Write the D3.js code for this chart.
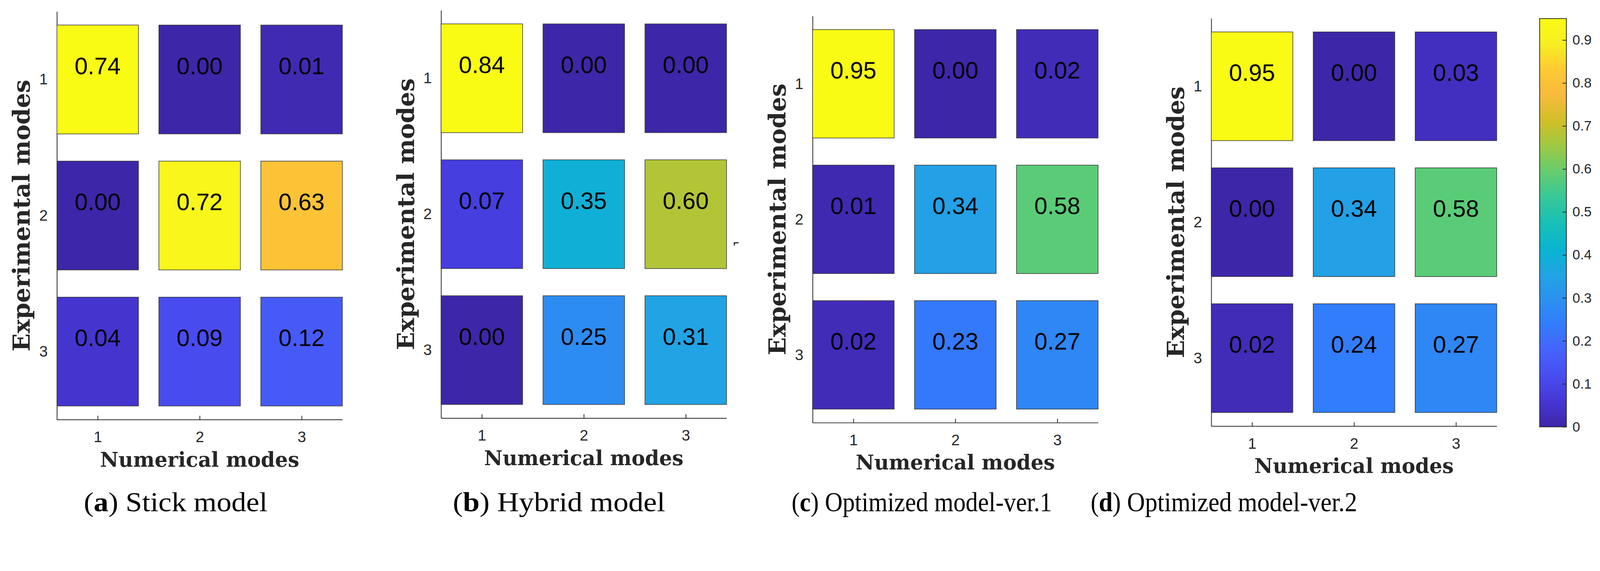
<!DOCTYPE html>
<html>
<head>
<meta charset="utf-8">
<script src="https://cdn.jsdelivr.net/npm/d3@7"></script>
<style>
  html, body { margin: 0; padding: 0; background: #fff; overflow: hidden; }
  svg { display: block; }
</style>
</head>
<body>
<div id="chart"></div>
<script>
// mode indices on both axes
var numericalModes = [1, 2, 3];
var experimentalModes = [1, 2, 3];

// MAC values, rows = experimental modes, columns = numerical modes
var stickModel   = [[0.74, 0.00, 0.01], [0.00, 0.72, 0.63], [0.04, 0.09, 0.12]];
var hybridModel  = [[0.84, 0.00, 0.00], [0.07, 0.35, 0.60], [0.00, 0.25, 0.31]];
var optimizedV1  = [[0.95, 0.00, 0.02], [0.01, 0.34, 0.58], [0.02, 0.23, 0.27]];
var optimizedV2  = [[0.95, 0.00, 0.03], [0.00, 0.34, 0.58], [0.02, 0.24, 0.27]];

var panelLetters = ['a', 'b', 'c', 'd'];
var panelTitles = ['Stick model', 'Hybrid model', 'Optimized model-ver.1', 'Optimized model-ver.2'];

var colorbarTicks = [0, 0.1, 0.2, 0.3, 0.4, 0.5, 0.6, 0.7, 0.8, 0.9];
var colorbarMax = 0.95;

// parula colormap (sampled)
var parula = ['#3e26a8', '#4537d5', '#484df0', '#4563fd', '#327cfc', '#2b91ef', '#20a5e3', '#08b5d0',
              '#19bfb6', '#37c897', '#64cd6f', '#9dc943', '#d1bf27', '#f8ba3d', '#fec934', '#f6ef20', '#f9fb15'];
var parulaInterp = d3.piecewise(d3.interpolateRgb, parula);

var W = 4190, H = 1462;
var axisColor = '#262626';
var cellPitch = 267;
var numFont = '"Liberation Sans", Arial, sans-serif';

var svg = d3.select('#chart').append('svg')
    .attr('viewBox', '0 0 ' + W + ' ' + H)
    .attr('width', '100%')
    .attr('preserveAspectRatio', 'xMinYMin meet')
    .style('background', '#fff');

var panels = [
    {data: stickModel,  left: 149,  top: 30, bottom: 1099, capX: 460,  capW: 481},
    {data: hybridModel, left: 1155, top: 27, bottom: 1095, capX: 1464, capW: 556},
    {data: optimizedV1, left: 2128, top: 42, bottom: 1107, capX: 2414, capW: 682},
    {data: optimizedV2, left: 3172, top: 48, bottom: 1116, capX: 3205, capW: 698}
];

panels.forEach(function(p, k) {
    var g = svg.append('g').attr('class', 'panel-' + k);
    var x = d3.scaleLinear().domain([0.6, 3.4]).range([p.left, p.left + 2.8 * cellPitch]);
    var y = d3.scaleLinear().domain([0.5, 3.5]).range([p.top, p.bottom]);
    var maxVal = d3.max(p.data, function(r) { return d3.max(r); });
    var color = function(v) { return parulaInterp(Math.min(1, v / maxVal)); };

    // axes
    var xAxis = g.append('g')
        .attr('transform', 'translate(0,' + p.bottom + ')')
        .call(d3.axisBottom(x).tickValues(numericalModes).tickSizeInner(-10).tickSizeOuter(0).tickPadding(31).tickFormat(d3.format('d')));
    var yAxis = g.append('g')
        .attr('transform', 'translate(' + p.left + ',0)')
        .call(d3.axisLeft(y).tickValues(experimentalModes).tickSize(0).tickPadding(24).tickFormat(d3.format('d')));
    [xAxis, yAxis].forEach(function(a) {
        a.select('.domain').attr('stroke', axisColor).attr('stroke-width', 2);
        a.selectAll('.tick line').attr('stroke', axisColor).attr('stroke-width', 2);
        a.selectAll('.tick text')
            .attr('fill', axisColor)
            .style('font-family', numFont)
            .style('font-size', '40px');
    });

    // cells
    var cells = [];
    p.data.forEach(function(row, i) {
        row.forEach(function(v, j) {
            cells.push({r: experimentalModes[i], c: numericalModes[j], v: v});
        });
    });

    g.selectAll('rect.cell').data(cells).enter().append('rect')
        .attr('class', 'cell')
        .attr('x', function(d) { return x(d.c - 0.4); })
        .attr('y', function(d) { return y(d.r - 0.4); })
        .attr('width', function(d) { return x(d.c + 0.4) - x(d.c - 0.4); })
        .attr('height', function(d) { return y(d.r + 0.4) - y(d.r - 0.4); })
        .attr('fill', function(d) { return color(d.v); })
        .attr('stroke', '#333')
        .attr('stroke-width', 1.5);

    g.selectAll('text.val').data(cells).enter().append('text')
        .attr('class', 'val')
        .attr('x', function(d) { return x(d.c); })
        .attr('y', function(d) { return y(d.r - 0.1); })
        .attr('text-anchor', 'middle')
        .attr('dominant-baseline', 'central')
        .style('font-family', numFont)
        .style('font-size', '62px')
        .attr('fill', '#000')
        .text(function(d) { return d.v.toFixed(2); });

    // axis titles
    g.append('text')
        .attr('transform', 'translate(' + (p.left - 71) + ',' + ((p.top + p.bottom) / 2) + ') rotate(-90)')
        .attr('text-anchor', 'middle')
        .style('font-family', '"DejaVu Serif", serif')
        .style('font-weight', 'bold')
        .style('font-size', '62px')
        .attr('fill', axisColor)
        .text('Experimental modes');

    g.append('text')
        .attr('x', (x.range()[0] + x.range()[1]) / 2)
        .attr('y', p.bottom + 123)
        .attr('text-anchor', 'middle')
        .style('font-family', '"DejaVu Serif", serif')
        .style('font-weight', 'bold')
        .style('font-size', '53px')
        .attr('fill', axisColor)
        .text('Numerical modes');

    // sub caption
    var cap = svg.append('text')
        .attr('x', p.capX)
        .attr('y', 1339)
        .attr('text-anchor', 'middle')
        .attr('textLength', p.capW)
        .attr('lengthAdjust', 'spacingAndGlyphs')
        .style('font-family', '"Liberation Serif", "Times New Roman", serif')
        .style('font-size', '72px')
        .attr('fill', '#000');
    cap.append('tspan').text('(');
    cap.append('tspan').style('font-weight', 'bold').text(panelLetters[k]);
    cap.append('tspan').text(') ' + panelTitles[k]);
});

// small stray mark next to panel b
svg.append('path')
    .attr('d', 'M1923,643 L1923,636 L1934,636')
    .attr('fill', 'none')
    .attr('stroke', '#000')
    .attr('stroke-width', 2.5);

// colorbar
var cbX = 4032, cbW = 70;
var cbScale = d3.scaleLinear().domain([0, colorbarMax]).range([1118, 48.6]);

var grad = svg.append('defs').append('linearGradient')
    .attr('id', 'parulaGrad')
    .attr('x1', 0).attr('y1', 1).attr('x2', 0).attr('y2', 0);
parula.forEach(function(c, i) {
    grad.append('stop').attr('offset', i / (parula.length - 1)).attr('stop-color', c);
});

svg.append('rect')
    .attr('x', cbX)
    .attr('y', cbScale(colorbarMax))
    .attr('width', cbW)
    .attr('height', cbScale(0) - cbScale(colorbarMax))
    .attr('fill', 'url(#parulaGrad)')
    .attr('stroke', axisColor)
    .attr('stroke-width', 2);

var cbAxis = svg.append('g')
    .attr('transform', 'translate(' + (cbX + cbW) + ',0)')
    .call(d3.axisRight(cbScale).tickValues(colorbarTicks).tickSizeInner(-10).tickSizeOuter(0).tickPadding(16)
        .tickFormat(function(d) { return d === 0 ? '0' : d3.format('.1f')(d); }));
cbAxis.select('.domain').remove();
cbAxis.selectAll('.tick line').attr('stroke', axisColor).attr('stroke-width', 2);
cbAxis.selectAll('.tick text')
    .attr('fill', axisColor)
    .style('font-family', numFont)
    .style('font-size', '36px');
</script>
</body>
</html>
